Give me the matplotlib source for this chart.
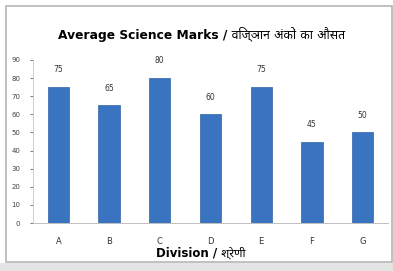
import matplotlib
matplotlib.use('Agg')
import matplotlib.pyplot as plt
from matplotlib.patches import Rectangle

# datos
divisiones = ['A', 'B', 'C', 'D', 'E', 'F', 'G']
marcas = [75, 65, 80, 60, 75, 45, 50]
yticks = [0, 10, 20, 30, 40, 50, 60, 70, 80, 90]

titulo = 'Average Science Marks / विज्ञान अंकों का औसत'
xlabel = 'Division / श्रेणी'

fam = ['DejaVu Sans', 'Noto Sans', 'Lato']

fig = plt.figure(figsize=(3.93, 2.71), dpi=100)
fig.patch.set_facecolor('white')

# marco exterior y franja gris inferior
fig.patches.append(Rectangle((6/393, 9/271), 386/393, 256/271, transform=fig.transFigure,
                             fill=False, edgecolor='#b5b5b5', linewidth=1.2))
fig.patches.append(Rectangle((0, 0), 1, 8/271, transform=fig.transFigure,
                             facecolor='#e4e4e4', edgecolor='none'))

ax = fig.add_axes([33/393, 1 - 223/271, 355/393, 163/271])
x = range(len(divisiones))
ax.bar(x, marcas, width=0.42, color='#3a74c0', edgecolor='#2e63a8', linewidth=0.5)
for i, v in enumerate(marcas):
    ax.text(i, v + 7, str(v), ha='center', va='bottom', fontsize=5.5, color='#333333', clip_on=False)

ax.set_xlim(-0.5, len(divisiones) - 0.5)
ax.set_ylim(0, 90)
ax.set_yticks(yticks)
ax.set_xticks(list(x))
ax.set_xticklabels(divisiones)
ax.tick_params(axis='y', labelsize=5, colors='#444444', length=2, width=0.5, pad=7)
ax.tick_params(axis='x', labelsize=6, colors='#333333', length=0, pad=10)
for s in ['top', 'right']:
    ax.spines[s].set_visible(False)
ax.spines['left'].set_color('#c8c8c8')
ax.spines['bottom'].set_color('#bfbfbf')
ax.spines['left'].set_linewidth(0.6)
ax.spines['bottom'].set_linewidth(0.7)

fig.text(202/393, 1 - 34/271, titulo, ha='center', va='center', fontsize=8.8,
         fontweight='bold', family=fam)
fig.text(201/393, 1 - 253/271, xlabel, ha='center', va='center', fontsize=8.5,
         fontweight='bold', family=fam)

fig.savefig('out.png', dpi=100)
